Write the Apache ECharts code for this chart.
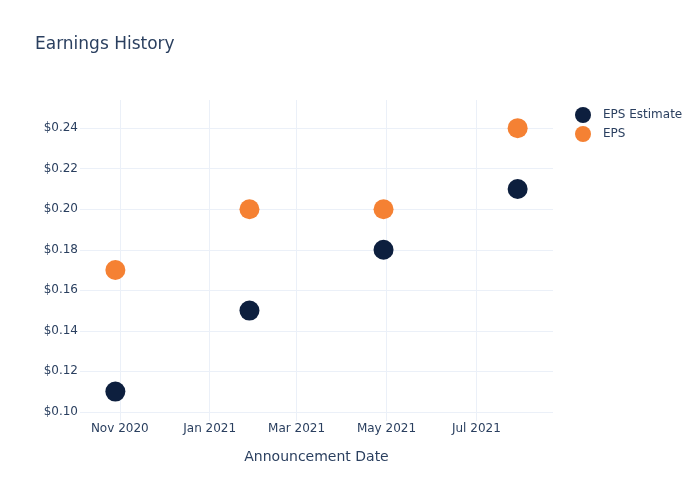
<!DOCTYPE html>
<html>
<head>
<meta charset="utf-8">
<script src="https://cdn.jsdelivr.net/npm/echarts@6/dist/echarts.min.js"></script>
<style>html,body{margin:0;padding:0;background:#fff}#c{width:700px;height:500px}</style>
</head>
<body>
<div id="c"></div>
<script>
const dates = ['2020-10-29', '2021-01-28', '2021-04-29', '2021-07-29'];
const epsEstimate = [0.11, 0.15, 0.18, 0.21];
const eps = [0.17, 0.20, 0.20, 0.24];
const xTicks = ['2020-11-01', '2021-01-01', '2021-03-01', '2021-05-01', '2021-07-01'];
const yTicks = [0.10, 0.12, 0.14, 0.16, 0.18, 0.20, 0.22, 0.24];
const monthNames = ['Jan','Feb','Mar','Apr','May','Jun','Jul','Aug','Sep','Oct','Nov','Dec'];

const FONT = 'DejaVu Sans';
const TXT = '#2a3f5f';
const GRID = '#ebf0f8';
const toTs = d => +new Date(d + 'T00:00:00Z');
const xTickVals = xTicks.map(toTs);

const chart = echarts.init(document.getElementById('c'), null, {renderer: 'canvas'});
chart.setOption({
  animation: false,
  backgroundColor: '#fff',
  textStyle: {fontFamily: FONT, color: TXT},
  title: {
    text: 'Earnings History', left: 30, top: 31,
    textStyle: {fontFamily: FONT, fontSize: 17, fontWeight: 'normal', color: TXT}
  },
  legend: {
    orient: 'vertical', left: 570, top: 102, itemWidth: 16, itemHeight: 16, itemGap: 3,
    icon: 'circle',
    textStyle: {fontFamily: FONT, fontSize: 12, color: TXT, padding: [0, 0, 0, 7]},
    data: ['EPS Estimate', 'EPS']
  },
  grid: {left: 80, right: 147, top: 100, bottom: 79, containLabel: false},
  xAxis: {
    type: 'value',
    min: toTs('2020-10-05'),
    max: toTs('2021-08-22'),
    name: 'Announcement Date', nameLocation: 'middle', nameGap: 29,
    nameTextStyle: {fontFamily: FONT, fontSize: 14, color: TXT},
    axisLine: {show: false},
    axisTick: {show: false, customValues: xTickVals},
    splitLine: {show: true, lineStyle: {color: GRID, width: 1}},
    axisLabel: {
      customValues: xTickVals, margin: 2,
      fontFamily: FONT, fontSize: 12, color: TXT,
      formatter: v => { const d = new Date(v); return monthNames[d.getUTCMonth()] + ' ' + d.getUTCFullYear(); }
    }
  },
  yAxis: {
    type: 'value', min: 0.0955, max: 0.2539,
    axisLine: {show: false},
    axisTick: {show: false, customValues: yTicks},
    splitLine: {show: true, lineStyle: {color: GRID, width: 1}},
    axisLabel: {
      customValues: yTicks, margin: 2,
      fontFamily: FONT, fontSize: 12, color: TXT,
      formatter: v => '$' + v.toFixed(2)
    }
  },
  series: [
    {name: 'EPS Estimate', type: 'scatter', symbolSize: 20, itemStyle: {color: '#0d1f3e', opacity: 1},
     data: dates.map((d, i) => [toTs(d), epsEstimate[i]])},
    {name: 'EPS', type: 'scatter', symbolSize: 20, itemStyle: {color: '#f58133', opacity: 1},
     data: dates.map((d, i) => [toTs(d), eps[i]])}
  ]
});
</script>
</body>
</html>
